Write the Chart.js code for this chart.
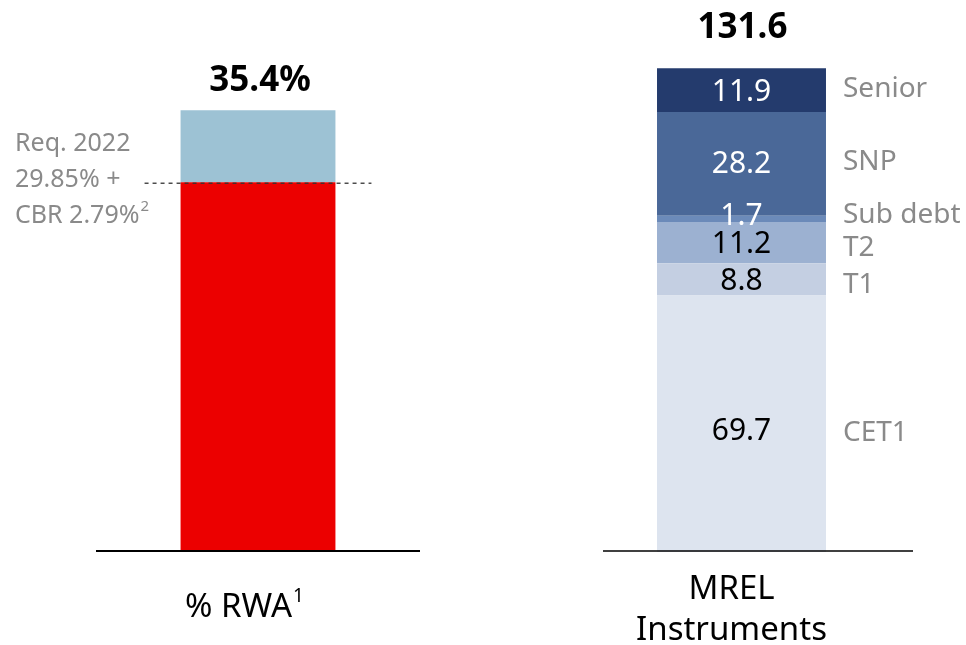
<!DOCTYPE html>
<html>
<head>
<meta charset="utf-8">
<script src="https://cdn.jsdelivr.net/npm/chart.js@4.4.1/dist/chart.umd.min.js"></script>
<style>
    body { margin: 0; background: #fff; }
    #wrap { position: relative; width: 966px; height: 645px; overflow: hidden; }
    canvas { position: absolute; top: 0; }
    #chart-rwa { left: 0; }
    #chart-mrel { left: 480px; }
</style>
</head>
<body>
<div id="wrap">
    <canvas id="chart-rwa" width="480" height="645" style="width:480px;height:645px"></canvas>
    <canvas id="chart-mrel" width="486" height="645" style="width:486px;height:645px"></canvas>
</div>
<script>
// ---- data ----
const rwaLabels = ['% RWA'];
const rwaRequired = [29.6];      // red part, up to the dashed requirement line
const rwaBuffer = [5.8];         // light blue part on top
const rwaTotalLabel = '35.4%';
const rwaNoteLines = ['Req. 2022', '29.85% +', 'CBR 2.79%'];

const mrelLabels = ['MREL Instruments'];
const mrelSeries = ['CET1', 'T1', 'T2', 'Sub debt', 'SNP', 'Senior'];
const mrelValues = [69.7, 8.8, 11.2, 1.7, 28.2, 11.9];
const mrelTotal = 131.6;

const mrelColors = ['#dde4ef', '#c4cfe2', '#9cb1d1', '#6b8ab9', '#4a6898', '#243b6d'];
const FONT = "'Noto Sans', sans-serif";
const GREY = '#8a8a8a';

Chart.defaults.font.family = FONT;
Chart.defaults.animation = false;

// Left chart: % RWA
const rwaPlugin = {
    id: 'rwaDecor',
    afterDatasetsDraw(chart) {
        const ctx = chart.ctx;
        const area = chart.chartArea;
        const redBar = chart.getDatasetMeta(0).data[0];
        const topBar = chart.getDatasetMeta(1).data[0];
        ctx.save();

        // baseline
        ctx.strokeStyle = '#000';
        ctx.lineWidth = 2;
        ctx.beginPath();
        ctx.moveTo(area.left, area.bottom + 1);
        ctx.lineTo(area.right, area.bottom + 1);
        ctx.stroke();

        // total on top
        ctx.fillStyle = '#000';
        ctx.font = 'bold 35px ' + FONT;
        ctx.textAlign = 'center';
        ctx.textBaseline = 'middle';
        ctx.fillText(rwaTotalLabel, topBar.x + 2, topBar.y - 29);

        // dashed requirement line
        const lineY = redBar.y + 1;
        ctx.strokeStyle = '#333';
        ctx.lineWidth = 1.3;
        ctx.setLineDash([4, 4]);
        ctx.beginPath();
        ctx.moveTo(redBar.x - redBar.width / 2 - 36, lineY);
        ctx.lineTo(redBar.x + redBar.width / 2 + 36, lineY);
        ctx.stroke();
        ctx.setLineDash([]);

        // requirement note
        ctx.fillStyle = GREY;
        ctx.font = '25px ' + FONT;
        ctx.textAlign = 'left';
        rwaNoteLines.forEach((t, i) => {
            ctx.fillText(t, 15, lineY - 39 + i * 36);
        });
        const w = ctx.measureText(rwaNoteLines[2]).width;
        ctx.font = '15px ' + FONT;
        ctx.fillText('2', 15 + w + 1, lineY - 39 + 2 * 36 - 9);

        // category label
        ctx.fillStyle = '#000';
        ctx.font = '33px ' + FONT;
        ctx.textAlign = 'left';
        const lw = ctx.measureText(rwaLabels[0]).width;
        const lx = redBar.x - 14 - (lw + 11) / 2;
        ctx.fillText(rwaLabels[0], lx, area.bottom + 58);
        ctx.font = '19px ' + FONT;
        ctx.fillText('1', lx + lw + 1, area.bottom + 47);
        ctx.restore();
    }
};

new Chart(document.getElementById('chart-rwa'), {
    type: 'bar',
    data: {
        labels: rwaLabels,
        datasets: [
            { data: rwaRequired, backgroundColor: '#ec0000' },
            { data: rwaBuffer, backgroundColor: '#9dc2d4' }
        ]
    },
    options: {
        responsive: false,
        layout: { padding: { left: 96, right: 60, top: 53, bottom: 95 } },
        datasets: { bar: { categoryPercentage: 1, barPercentage: 0.478 } },
        plugins: { legend: { display: false }, tooltip: { enabled: false } },
        scales: {
            x: { display: false, stacked: true },
            y: { display: false, stacked: true, min: 0, max: 40 }
        }
    },
    plugins: [rwaPlugin]
});

// Right chart: MREL instruments
const valueNudge = [8, 2, 2, -2, 1, 2];
const nameNudge = [9, 6, 5, -4, -2, -1];

const mrelPlugin = {
    id: 'mrelDecor',
    afterDatasetsDraw(chart) {
        const ctx = chart.ctx;
        const area = chart.chartArea;
        ctx.save();

        // baseline (runs a bit past the plot on the right)
        ctx.strokeStyle = '#000';
        ctx.lineWidth = 1.5;
        ctx.beginPath();
        ctx.moveTo(area.left, area.bottom - 1);
        ctx.lineTo(area.right + 33, area.bottom - 1);
        ctx.stroke();

        ctx.textBaseline = 'middle';
        let topY = area.bottom;
        let barX = 0, barRight = 0;
        mrelSeries.forEach((name, i) => {
            const el = chart.getDatasetMeta(i).data[0];
            const cy = (el.y + el.base) / 2;
            topY = Math.min(topY, el.y);
            barX = el.x;
            barRight = el.x + el.width / 2;

            ctx.font = '30px ' + FONT;
            ctx.textAlign = 'center';
            ctx.fillStyle = i >= 3 ? '#fff' : '#000';
            ctx.fillText(mrelValues[i].toFixed(1), el.x, cy + valueNudge[i]);

            ctx.font = '28px ' + FONT;
            ctx.textAlign = 'left';
            ctx.fillStyle = GREY;
            ctx.fillText(name, barRight + 17, cy + nameNudge[i]);
        });

        // total
        ctx.fillStyle = '#000';
        ctx.font = 'bold 35px ' + FONT;
        ctx.textAlign = 'center';
        ctx.fillText(mrelTotal.toFixed(1), barX + 1, topY - 40);

        // category label on two lines
        ctx.font = '33px ' + FONT;
        const words = mrelLabels[0].split(' ');
        ctx.fillText(words[0], barX - 10, area.bottom + 38);
        ctx.fillText(words[1], barX - 10, area.bottom + 79);
        ctx.restore();
    }
};

new Chart(document.getElementById('chart-mrel'), {
    type: 'bar',
    data: {
        labels: mrelLabels,
        datasets: mrelSeries.map((name, i) => ({
            label: name,
            data: [mrelValues[i]],
            backgroundColor: mrelColors[i]
        }))
    },
    options: {
        responsive: false,
        layout: { padding: { left: 123, right: 86, top: 37, bottom: 93 } },
        datasets: { bar: { categoryPercentage: 1, barPercentage: 0.61 } },
        plugins: { legend: { display: false }, tooltip: { enabled: false } },
        scales: {
            x: { display: false, stacked: true },
            y: { display: false, stacked: true, min: 0, max: 140 }
        }
    },
    plugins: [mrelPlugin]
});
</script>
</body>
</html>
